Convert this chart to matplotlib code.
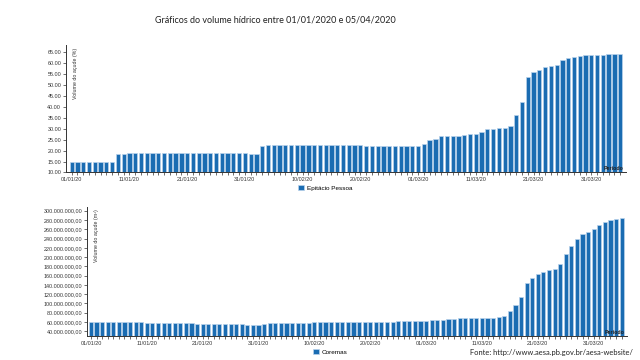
import numpy as np
import pandas as pd
import matplotlib
matplotlib.use("Agg")
import matplotlib.pyplot as plt
from matplotlib.patches import Patch
from matplotlib.ticker import FuncFormatter

# --------------------------
# Dados
# --------------------------
DATAS = pd.date_range("2020-01-01", "2020-04-05", freq="D")
TICK_LABELS = ["01/01/20", "11/01/20", "21/01/20", "31/01/20", "10/02/20",
               "20/02/20", "01/03/20", "11/03/20", "21/03/20", "31/03/20"]

# volume do açude Epitácio Pessoa (%)
EPITACIO = [
    15.0, 15.0, 15.0, 15.0, 15.0, 15.0, 15.0, 15.0, 18.3, 18.6,   # 01/01-10/01
    19.1, 19.1, 19.1, 19.1, 19.1, 19.0, 19.0, 19.0, 19.0, 19.0,   # 11/01-20/01
    19.0, 18.9, 18.9, 18.9, 18.9, 18.9, 18.8, 18.8, 18.8, 18.8,   # 21/01-30/01
    18.7, 18.4, 18.4, 22.1, 22.5, 22.6, 22.8, 22.8, 22.8, 22.8,   # 31/01-09/02
    22.8, 22.7, 22.7, 22.7, 22.7, 22.7, 22.5, 22.5, 22.5, 22.5,   # 10/02-19/02
    22.5, 22.3, 22.3, 22.3, 22.3, 22.3, 22.0, 22.0, 22.0, 22.0,   # 20/02-29/02
    22.0, 23.2, 24.7, 25.5, 26.5, 26.7, 26.8, 26.8, 27.2, 27.5,   # 01/03-10/03
    27.5, 28.4, 29.8, 29.9, 30.3, 30.3, 31.5, 36.3, 42.1, 53.6,   # 11/03-20/03
    55.9, 57.0, 58.2, 58.8, 59.4, 61.6, 62.3, 63.1, 63.4, 63.6,   # 21/03-30/03
    63.8, 63.9, 63.9, 64.1, 64.1, 64.1,                           # 31/03-05/04
]

# volume do açude Coremas (milhões de m³)
COREMAS_MI = [
    60.8, 60.8, 60.4, 60.1, 60.1, 59.8, 59.8, 59.8, 59.4, 59.0,
    58.7, 58.7, 58.3, 58.0, 58.0, 57.6, 57.3, 57.3, 57.0, 56.6,
    56.6, 56.2, 55.9, 55.9, 55.5, 55.2, 55.2, 54.8, 54.5, 54.1,
    53.8, 55.9, 57.3, 57.3, 57.3, 57.3, 57.3, 57.3, 57.3, 58.0,
    59.4, 59.4, 59.4, 59.4, 59.4, 59.4, 59.4, 59.4, 59.4, 59.4,
    59.4, 59.4, 60.1, 60.1, 60.1, 61.5, 62.3, 62.3, 63.0, 63.0,
    63.0, 64.0, 64.4, 64.4, 65.9, 66.6, 68.0, 68.7, 69.5, 69.5,
    69.5, 69.5, 69.5, 70.2, 73.0, 84.6, 96.1, 114.8, 145.1, 155.9,
    163.8, 168.2, 171.8, 174.6, 184.7, 206.3, 224.4, 238.8, 249.6, 253.2,
    260.4, 268.3, 274.8, 279.1, 282.0, 283.4,
]

AZUL = "#1a6cb2"
BORDA = "#b9d3ec"
CINZA = "#333333"
FONTE_PEQ = "Liberation Sans"


def fmt_br(v, pos):
    s = f"{v * 1e6:,.2f}"
    return s.replace(",", "X").replace(".", ",").replace("X", ".")


def estilo_eixo(ax, xlim):
    x = np.arange(len(DATAS))
    ax.set_xlim(*xlim)
    ax.set_xticks(x, minor=True)
    ax.set_xticks(x[::10])
    ax.set_xticklabels(TICK_LABELS, fontsize=3.9, family=FONTE_PEQ, color=CINZA)
    for s in ["top", "right"]:
        ax.spines[s].set_visible(False)
    for s in ["left", "bottom"]:
        ax.spines[s].set_color(CINZA)
        ax.spines[s].set_linewidth(0.7)
    ax.tick_params(axis="both", which="both", length=2.2, width=0.5, color=CINZA, pad=1.2)
    ax.tick_params(axis="y", labelsize=3.9, labelcolor=CINZA)
    for lab in ax.get_yticklabels():
        lab.set_family(FONTE_PEQ)
    ax.text(0.995, 0.01, "Período", transform=ax.transAxes, ha="right", va="bottom",
            fontsize=3.8, family=FONTE_PEQ, color="#222222", fontweight="bold")


def main():
    fig = plt.figure(figsize=(6.4, 3.6), dpi=100)
    x = np.arange(len(DATAS))

    fig.text(0.431, 0.944, "Gráficos do volume hídrico entre 01/01/2020 e 05/04/2020",
             ha="center", va="center", fontsize=6.5, family="Lato", color="#222222")

    # gráfico 1 - Epitácio Pessoa
    ax1 = fig.add_axes([0.103, 0.521, 0.875, 0.354])
    ax1.bar(x, EPITACIO, width=0.74, color=AZUL, edgecolor=BORDA, linewidth=0.5)
    ax1.set_ylim(10, 68.4)
    ax1.set_yticks(np.arange(10, 66, 5))
    ax1.yaxis.set_major_formatter(FuncFormatter(lambda v, p: f"{v:.2f}"))
    estilo_eixo(ax1, (-1.0, 96.0))
    ax1.text(0.012, 0.98, "Volume do açude (%)", transform=ax1.transAxes, rotation=90,
             ha="left", va="top", fontsize=3.8, family=FONTE_PEQ, color=CINZA)
    ax1.legend(handles=[Patch(facecolor=AZUL, edgecolor=BORDA, linewidth=0.5)],
               labels=["Epitácio Pessoa"], loc="center", bbox_to_anchor=(0.508, 0.478),
               bbox_transform=fig.transFigure, frameon=False, handlelength=0.9,
               handleheight=0.9, handletextpad=0.4, prop={"family": FONTE_PEQ, "size": 4.6})

    # gráfico 2 - Coremas
    ax2 = fig.add_axes([0.136, 0.067, 0.844, 0.358])
    ax2.bar(x, COREMAS_MI, width=0.74, color=AZUL, edgecolor=BORDA, linewidth=0.5)
    ax2.set_ylim(30, 308)
    ax2.set_yticks(np.arange(40, 301, 20))
    ax2.yaxis.set_major_formatter(FuncFormatter(fmt_br))
    estilo_eixo(ax2, (-0.7, 96.0))
    ax2.text(0.012, 0.98, "Volume do açude (m³)", transform=ax2.transAxes, rotation=90,
             ha="left", va="top", fontsize=3.8, family=FONTE_PEQ, color=CINZA)
    ax2.legend(handles=[Patch(facecolor=AZUL, edgecolor=BORDA, linewidth=0.5)],
               labels=["Coremas"], loc="center", bbox_to_anchor=(0.516, 0.022),
               bbox_transform=fig.transFigure, frameon=False, handlelength=0.9,
               handleheight=0.9, handletextpad=0.4, prop={"family": FONTE_PEQ, "size": 4.6})

    fig.text(0.989, 0.022, "Fonte: http://www.aesa.pb.gov.br/aesa-website/", ha="right",
             va="center", fontsize=5.4, family="Lato", color="#222222")

    fig.savefig("out.png", dpi=100)
    plt.close(fig)


if __name__ == "__main__":
    main()
